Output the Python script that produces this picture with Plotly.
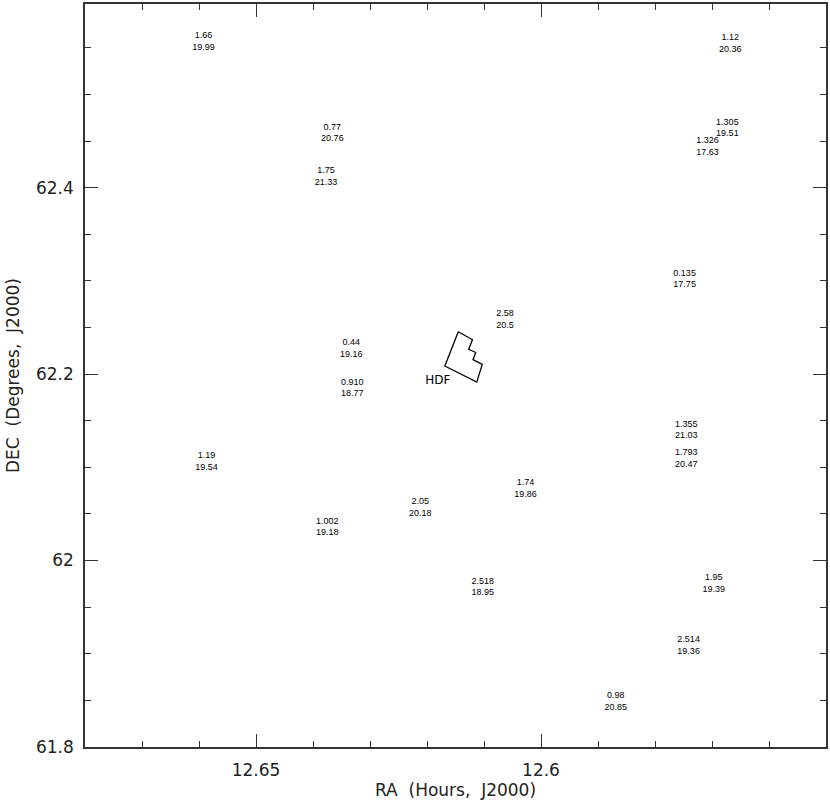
import plotly.graph_objects as go

# Sources around the HDF: position, redshift and magnitude
ra = [12.6592, 12.6366, 12.6377, 12.5668, 12.5673, 12.5708, 12.5748, 12.5745,
      12.5745, 12.6333, 12.6331, 12.6587, 12.6375, 12.6063, 12.6212, 12.6027,
      12.6102, 12.5697, 12.5741, 12.5869]
dec = [62.5564, 62.4584, 62.4116, 62.5542, 62.4638, 62.4439, 62.3017, 62.1397,
       62.1090, 62.2269, 62.1849, 62.1058, 62.0358, 62.2581, 62.0562, 62.0767,
       61.9712, 61.9753, 61.9088, 61.8485]
redshift = ['1.66', '0.77', '1.75', '1.12', '1.305', '1.326', '0.135', '1.355',
            '1.793', '0.44', '0.910', '1.19', '1.002', '2.58', '2.05', '1.74',
            '2.518', '1.95', '2.514', '0.98']
mag = ['19.99', '20.76', '21.33', '20.36', '19.51', '17.63', '17.75', '21.03',
       '20.47', '19.16', '18.77', '19.54', '19.18', '20.5', '20.18', '19.86',
       '18.95', '19.39', '19.36', '20.85']

# HDF field outline
hdf_ra = [12.61451, 12.61202, 12.61269, 12.61146, 12.61193, 12.61031, 12.61127,
          12.61687, 12.61451]
hdf_dec = [62.24544, 62.23682, 62.22660, 62.22315, 62.21540, 62.21044, 62.19128,
           62.20862, 62.24544]
hdf_label = 'HDF'
hdf_label_ra = 12.6181
hdf_label_dec = 62.1930

labels = [z + '<br>' + m for z, m in zip(redshift, mag)]

fig = go.Figure()
fig.add_trace(go.Scatter(
    x=hdf_ra, y=hdf_dec,
    mode='lines',
    line=dict(color='black', width=1.3),
    hoverinfo='skip',
))
fig.add_trace(go.Scatter(
    x=ra, y=dec,
    mode='text',
    text=labels,
    textposition='middle center',
    textfont=dict(family='Liberation Sans, Arial', size=9, color='black'),
))
fig.add_trace(go.Scatter(
    x=[hdf_label_ra], y=[hdf_label_dec],
    mode='text',
    text=[hdf_label],
    textposition='middle center',
    textfont=dict(family='DejaVu Sans', size=12, color='black'),
))

axis_style = dict(
    showgrid=False,
    zeroline=False,
    showline=True,
    linecolor='#333',
    linewidth=1.5,
    mirror='ticks',
    ticks='inside',
    ticklen=13,
    tickwidth=1.3,
    tickcolor='#333',
    tickfont=dict(family='DejaVu Sans', size=17, color='#222'),
)
title_font = dict(family='DejaVu Sans', size=17, color='#222')

fig.update_layout(
    autosize=False,
    width=830,
    height=800,
    margin=dict(l=85, r=2, t=4, b=53),
    plot_bgcolor='white',
    paper_bgcolor='white',
    showlegend=False,
    xaxis=dict(
        axis_style,
        range=[12.68, 12.55],
        tick0=12.6,
        dtick=0.05,
        ticklabelstandoff=7,
        minor=dict(dtick=0.01, tick0=12.6, ticks='inside', ticklen=6,
                   tickwidth=1.3, tickcolor='#333'),
        title=dict(text='RA\u00a0\u00a0(Hours,\u00a0\u00a0J2000)', standoff=2,
                   font=title_font),
    ),
    yaxis=dict(
        axis_style,
        range=[61.7999, 62.597],
        tick0=61.8,
        dtick=0.2,
        ticklabelstandoff=6,
        minor=dict(dtick=0.05, tick0=61.8, ticks='inside', ticklen=6,
                   tickwidth=1.3, tickcolor='#333'),
        title=dict(text='DEC\u00a0\u00a0(Degrees,\u00a0\u00a0J2000)', standoff=12,
                   font=title_font),
    ),
)

fig.write_html("out.html", config={'displayModeBar': False},
               post_script="document.body.style.margin='0px';")
